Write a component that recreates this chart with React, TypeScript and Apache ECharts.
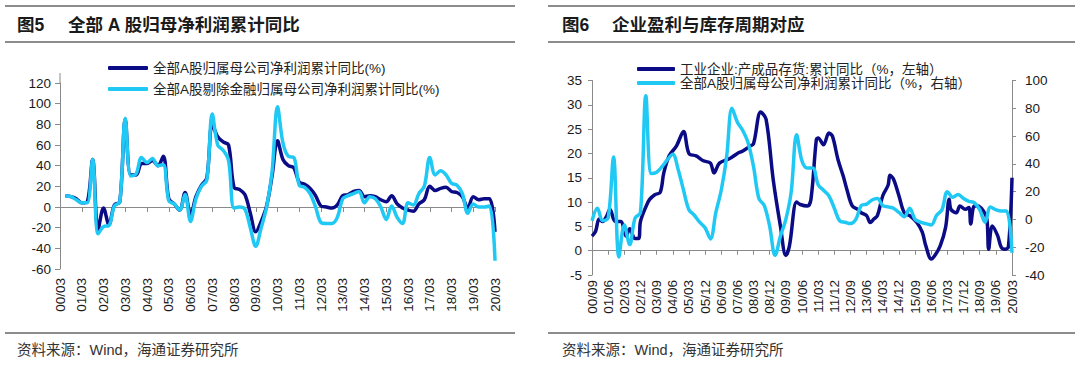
import React, { useEffect, useRef } from "react";
import * as echarts from "echarts";

function monthLabels(y0: number, m0: number, y1: number, m1: number, step: number): string[] {
  const out: string[] = [];
  let y = y0, m = m0;
  while (y < y1 || (y === y1 && m <= m1)) {
    out.push(String(y % 100).padStart(2, "0") + "/" + String(m).padStart(2, "0"));
    m += step;
    while (m > 12) { m -= 12; y++; }
  }
  return out;
}

// ---------- Figure 5 (quarterly, 00/03 .. 20/03) ----------
const fig5Categories: string[] = monthLabels(2000, 3, 2020, 3, 3);
const fig5Name1 = "全部A股归属母公司净利润累计同比(%)";
const fig5Name2 = "全部A股剔除金融归属母公司净利润累计同比(%)";
// values from 00/06 to 20/03
const fig5AllA: number[] = [
  11, 10, 8, 4, 5, 46, -22, -1, -17, 2,
  5, 85, 31, 31, 42, 42, 45, 40, 49, 8,
  3, -3, 14, -8, 10, 21, 28, 80, 68, 63,
  60, 19, 17, 12, -6, -24, -14, 1, 30, 64,
  46, 40, 38, 24, 22, 18, 11, 1, 0, -1,
  2, 11, 12, 15, 16, 10, 11, 10, 7, 5,
  11, 3, -1, -3, -4, 3, 7, 20, 16, 18,
  19, 15, 14, 10, -1, 10, 7, 8, 8, -24,
];
const fig5ExFin: number[] = [
  11, 10, 7, 4, 4, 46, -26, -19, -18, 1,
  5, 86, 30, 32, 48, 43, 47, 40, 41, 6,
  3, -3, 12, -14, 8, 20, 26, 90, 60, 55,
  45, -1, 0, -2, -20, -38, -20, 0, 34, 97,
  62, 49, 48, 21, 19, 13, 0, -15, -16, -16,
  -10, 8, 11, 13, 15, 4, 10, 8, 0, -12,
  1, -10, -16, 4, 2, 13, 20, 48, 31, 35,
  31, 23, 21, 13, -6, 3, 0, 0, 1, -52,
];
const fig5YTicks = { min: -60, max: 120, interval: 20 };

// ---------- Figure 6 (monthly axis, 00/09 .. 20/03) ----------
const fig6Categories: string[] = monthLabels(2000, 9, 2020, 3, 1);
const fig6QuarterCats: string[] = monthLabels(2000, 9, 2020, 3, 3);
const fig6NameInv = "工业企业:产成品存货:累计同比（%，左轴）";
const fig6NameProfit = "全部A股归属母公司净利润累计同比（%，右轴）";
const fig6InvMonths: string[] = [
  "00/09", "00/11", "01/01", "01/03", "01/05", "01/07", "01/10", "02/01", "02/04", "02/06",
  "02/09", "02/11", "02/12", "03/03", "03/05", "03/08", "03/11", "04/01", "04/04", "04/08",
  "04/12", "05/03", "05/07", "05/11", "06/03", "06/05", "06/08", "07/02", "07/06", "07/09",
  "08/01", "08/03", "08/07", "08/10", "09/02", "09/06", "09/09", "09/11", "10/03", "10/05",
  "10/09", "10/11", "11/02", "11/03", "11/06", "11/09", "11/11", "12/02", "12/05", "12/07",
  "12/10", "13/01", "13/03", "13/06", "13/08", "13/10", "13/12", "14/03", "14/06", "14/07",
  "14/09", "14/12", "15/03", "15/06", "15/10", "16/01", "16/03", "16/06", "16/08", "16/11",
  "17/02", "17/04", "17/05", "17/08", "17/10", "18/01", "18/03", "18/04", "18/06", "18/08",
  "18/11", "19/01", "19/02", "19/04", "19/07", "19/09", "19/11", "20/01", "20/03",
];
const fig6InvValues: number[] = [
  3, 4, 6.5, 6, 7, 8.5, 6, 6, 3, 4.5,
  2.5, 2.5, 6, 9, 10.5, 11.5, 12, 16, 19.5, 21.5,
  24.5, 20, 19.5, 18.5, 18, 16, 18, 19, 20, 20.5,
  21.5, 22, 28.5, 27, 14.5, 5, -1, 1, 10, 9.5,
  9.2, 10.6, 22.9, 23.2, 21.8, 24.2, 23.5, 18.8, 15.3, 12.6,
  9.2, 8.5, 7.8, 7.2, 5.8, 6.5, 7.2, 11.3, 13.5, 15.5,
  14.7, 11.3, 7.8, 7.2, 5.8, 3.8, 1, -1.7, -1, 1,
  4.8, 10.6, 8.5, 7.8, 9.2, 8.5, 8.9, 5.5, 9.2, 9.2,
  8.2, 6.5, 0.3, 5.1, 3.1, 0.7, 0.3, 0.8, 15,
];
// quarterly values from 00/09 to 20/03
const fig6Profit: number[] = [
  -1, 8, -1, 1, 45, -27, -4, -18, 1, 5,
  89, 33, 34, 38, 43, 47, 36, 21, 7, 3,
  -2, -6, -14, 5, 21, 45, 80, 70, 64, 55,
  38, 15, 10, -5, -26, -12, 0, 20, 61, 42,
  37, 37, 25, 21, 17, 8, -1, -2, -3, 0,
  10, 11, 14, 15, 10, 9, 8, 5, 2, 8,
  0, -2, -3, -4, 3, 7, 20, 16, 18, 15,
  13, 12, 7, -2, 9, 7, 6, 6, -24,
];
const fig6LeftTicks = { min: -5, max: 35, interval: 5 };
const fig6RightTicks = { min: -40, max: 100, interval: 20 };

const DARK = "#0b0b86";
const LIGHT = "#20c8f4";
const AXIS = "#8a8a8a";
const LABEL = "#1a1a1a";
const NUMFONT = "'Liberation Sans', Arial, 'Noto Sans CJK SC', sans-serif";
const CJKFONT = "'Liberation Sans', 'Noto Sans CJK SC', sans-serif";

function buildOption(): any {
  const lineBase = { type: "line", showSymbol: false, smooth: 0.35, connectNulls: true, z: 3 };
  const yLabel = { color: LABEL, fontSize: 13.5, fontFamily: NUMFONT };
  const xLabel = { color: LABEL, fontSize: 13.5, fontFamily: NUMFONT, rotate: 90 };
  const rule = (x1: number, x2: number, y: number) => ({
    type: "line", shape: { x1, y1: y, x2, y2: y }, style: { stroke: "#8c8c8c", lineWidth: 2 }, silent: true,
  });
  const text = (t: string, x: number, y: number, size: number, weight: string, color: string) => ({
    type: "text", x, y,
    style: { text: t, fontSize: size, fontWeight: weight, fontFamily: CJKFONT, fill: color, verticalAlign: "middle" },
    silent: true,
  });
  return {
    animation: false,
    backgroundColor: "#ffffff",
    grid: [
      { left: 60, top: 83, width: 435, height: 186 },
      { left: 592, top: 80.5, width: 420, height: 194.5 },
    ],
    legend: [
      {
        data: [fig5Name1, fig5Name2], orient: "vertical", left: 103, top: 56,
        icon: "roundRect", itemWidth: 40, itemHeight: 4, itemGap: 7,
        textStyle: { fontSize: 13.5, color: "#222", fontFamily: CJKFONT, lineHeight: 14 },
      },
      {
        data: [fig6NameInv, fig6NameProfit], orient: "vertical", left: 632, top: 57,
        icon: "roundRect", itemWidth: 38, itemHeight: 4, itemGap: 0,
        textStyle: { fontSize: 13.5, color: "#222", fontFamily: CJKFONT, lineHeight: 14 },
      },
    ],
    xAxis: [
      {
        gridIndex: 0, type: "category", data: fig5Categories, boundaryGap: false, position: "bottom",
        axisLine: { show: false, onZero: false }, axisTick: { show: false },
        axisLabel: { ...xLabel, interval: 3, margin: 9 },
      },
      {
        gridIndex: 0, type: "category", data: fig5Categories, boundaryGap: false, position: "bottom",
        axisLine: { show: true, onZero: true, lineStyle: { color: AXIS, width: 1 } },
        axisTick: { show: true, interval: 3, length: 5, lineStyle: { color: AXIS } },
        axisLabel: { show: false },
      },
      {
        gridIndex: 1, type: "category", data: fig6Categories, boundaryGap: false, position: "bottom",
        axisLine: { show: false, onZero: false }, axisTick: { show: false },
        axisLabel: { ...xLabel, interval: 8, margin: 5 },
      },
      {
        gridIndex: 1, type: "category", data: fig6Categories, boundaryGap: false, position: "bottom",
        axisLine: { show: true, onZero: true, lineStyle: { color: AXIS, width: 1 } },
        axisTick: { show: true, interval: 8, length: 4, lineStyle: { color: AXIS } },
        axisLabel: { show: false },
      },
    ],
    yAxis: [
      {
        gridIndex: 0, type: "value", ...fig5YTicks,
        axisLine: { show: true, onZero: false, lineStyle: { color: AXIS } },
        axisTick: { show: true, length: 5, lineStyle: { color: AXIS } },
        splitLine: { show: false }, axisLabel: { ...yLabel, margin: 9 },
      },
      {
        gridIndex: 1, type: "value", position: "left", ...fig6LeftTicks,
        axisLine: { show: true, onZero: false, lineStyle: { color: AXIS } },
        axisTick: { show: true, length: 4, lineStyle: { color: AXIS } },
        splitLine: { show: false }, axisLabel: { ...yLabel, margin: 10 },
      },
      {
        gridIndex: 1, type: "value", position: "right", ...fig6RightTicks,
        axisLine: { show: true, onZero: false, lineStyle: { color: AXIS } },
        axisTick: { show: true, length: 4, lineStyle: { color: AXIS } },
        splitLine: { show: false }, axisLabel: { ...yLabel, margin: 13 },
      },
    ],
    series: [
      {
        ...lineBase, name: fig5Name1, xAxisIndex: 0, yAxisIndex: 0,
        data: fig5AllA.map((v, i) => [fig5Categories[i + 1], v]),
        lineStyle: { color: DARK, width: 3.5 }, itemStyle: { color: DARK },
      },
      {
        ...lineBase, name: fig5Name2, xAxisIndex: 0, yAxisIndex: 0,
        data: fig5ExFin.map((v, i) => [fig5Categories[i + 1], v]),
        lineStyle: { color: LIGHT, width: 3.5 }, itemStyle: { color: LIGHT },
      },
      {
        ...lineBase, name: fig6NameInv, xAxisIndex: 2, yAxisIndex: 1,
        data: fig6InvValues.map((v, i) => [fig6InvMonths[i], v]),
        lineStyle: { color: DARK, width: 3.5 }, itemStyle: { color: DARK },
      },
      {
        ...lineBase, name: fig6NameProfit, xAxisIndex: 2, yAxisIndex: 2,
        data: fig6Profit.map((v, i) => [fig6QuarterCats[i], v]),
        lineStyle: { color: LIGHT, width: 3.5 }, itemStyle: { color: LIGHT },
      },
    ],
    graphic: [
      rule(5, 515, 6), rule(5, 515, 42), rule(5, 515, 333),
      rule(548, 1075, 6), rule(548, 1075, 42), rule(548, 1075, 333),
      text("图5", 17, 25, 17.5, "bold", "#1a1a1a"),
      text("全部 A 股归母净利润累计同比", 68, 25, 17.5, "bold", "#1a1a1a"),
      text("图6", 562, 25, 17.5, "bold", "#1a1a1a"),
      text("企业盈利与库存周期对应", 612, 25, 17.5, "bold", "#1a1a1a"),
      text("资料来源：Wind，海通证券研究所", 17, 350, 14.5, "normal", "#333"),
      text("资料来源：Wind，海通证券研究所", 562, 350, 14.5, "normal", "#333"),
      {
        type: "line", shape: { x1: 60, y1: 73, x2: 60, y2: 83 },
        style: { stroke: AXIS, lineWidth: 1 }, silent: true,
      },
    ],
  };
}

export default function App() {
  const ref = useRef<HTMLDivElement>(null);
  useEffect(() => {
    if (!ref.current) return;
    const chart = echarts.init(ref.current, null, { renderer: "svg" });
    chart.setOption(buildOption());
    return () => chart.dispose();
  }, []);
  return (
    <div
      ref={ref}
      style={{ position: "fixed", left: 0, top: 0, width: 1080, height: 365, background: "#fff" }}
    />
  );
}
